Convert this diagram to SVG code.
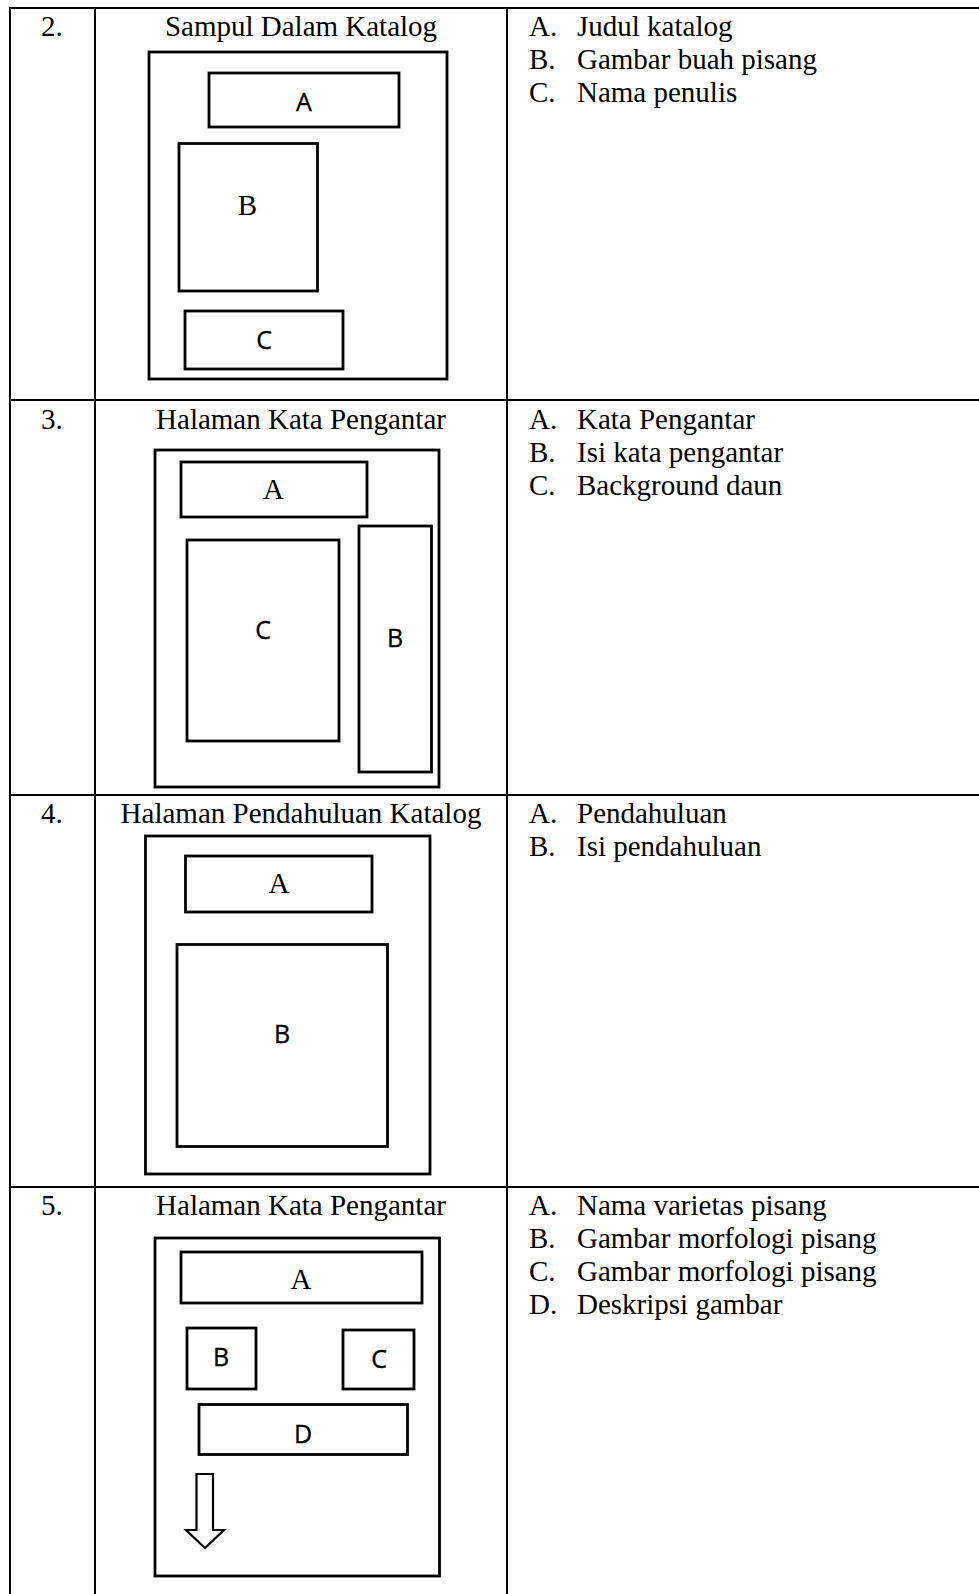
<svg xmlns="http://www.w3.org/2000/svg" width="979" height="1594" viewBox="0 0 979 1594">
<style>
.tl{stroke:#000;stroke-width:2;fill:none}
.bx{stroke:#000;stroke-width:2.8;fill:none}
.ser{font-family:"Liberation Serif","Times New Roman",serif;font-size:29px;fill:#000}
.san{font-family:"Open Sans","Liberation Sans",sans-serif;font-size:25px;fill:#000;stroke:#000;stroke-width:0.35}
.mid{text-anchor:middle}
</style>
<rect width="979" height="1594" fill="#fff"/>
<g id="table">
<line class="tl" x1="10" y1="8" x2="979" y2="8"/>
<line class="tl" x1="10" y1="400" x2="979" y2="400"/>
<line class="tl" x1="10" y1="795" x2="979" y2="795"/>
<line class="tl" x1="10" y1="1187" x2="979" y2="1187"/>
<line class="tl" x1="10" y1="7" x2="10" y2="1594"/>
<line class="tl" x1="95" y1="7" x2="95" y2="1594"/>
<line class="tl" x1="507" y1="7" x2="507" y2="1594"/>
</g>
<g id="row2">
<text class="ser" x="41" y="36">2.</text>
<text class="ser mid" x="301" y="36">Sampul Dalam Katalog</text>
<rect class="bx" x="149" y="52" width="298" height="327"/>
<rect class="bx" x="209" y="73" width="190" height="54"/>
<rect class="bx" x="179" y="143.5" width="138.5" height="147.5"/>
<rect class="bx" x="185" y="311" width="158" height="58"/>
<text class="san mid" x="304" y="111">A</text>
<text class="ser mid" x="247.5" y="214.5">B</text>
<text class="san mid" x="264" y="348.5">C</text>
<text class="ser" x="529" y="36">A.</text><text class="ser" x="577" y="36">Judul katalog</text>
<text class="ser" x="529" y="69">B.</text><text class="ser" x="577" y="69">Gambar buah pisang</text>
<text class="ser" x="529" y="102">C.</text><text class="ser" x="577" y="102">Nama penulis</text>
</g>
<g id="row3">
<text class="ser" x="41" y="429">3.</text>
<text class="ser mid" x="301" y="429">Halaman Kata Pengantar</text>
<rect class="bx" x="155" y="450" width="284" height="337"/>
<rect class="bx" x="181" y="462" width="186" height="55"/>
<rect class="bx" x="187" y="540" width="152" height="201"/>
<rect class="bx" x="359" y="526" width="72.5" height="246"/>
<text class="ser mid" x="273.5" y="498.5">A</text>
<text class="san mid" x="263" y="638.5">C</text>
<text class="san mid" x="395" y="646.5">B</text>
<text class="ser" x="529" y="429">A.</text><text class="ser" x="577" y="429">Kata Pengantar</text>
<text class="ser" x="529" y="462">B.</text><text class="ser" x="577" y="462">Isi kata pengantar</text>
<text class="ser" x="529" y="495">C.</text><text class="ser" x="577" y="495">Background daun</text>
</g>
<g id="row4">
<text class="ser" x="41" y="823">4.</text>
<text class="ser mid" x="301" y="823">Halaman Pendahuluan Katalog</text>
<rect class="bx" x="145.5" y="836" width="284.5" height="338"/>
<rect class="bx" x="185.5" y="856" width="186.5" height="56"/>
<rect class="bx" x="177" y="944.5" width="210.5" height="202"/>
<text class="ser mid" x="279" y="893">A</text>
<text class="san mid" x="282" y="1042.5">B</text>
<text class="ser" x="529" y="823">A.</text><text class="ser" x="577" y="823">Pendahuluan</text>
<text class="ser" x="529" y="856">B.</text><text class="ser" x="577" y="856">Isi pendahuluan</text>
</g>
<g id="row5">
<text class="ser" x="41" y="1215">5.</text>
<text class="ser mid" x="301" y="1215">Halaman Kata Pengantar</text>
<rect class="bx" x="155" y="1238" width="284.5" height="338"/>
<rect class="bx" x="181" y="1252" width="241" height="51"/>
<rect class="bx" x="187" y="1328" width="69" height="61"/>
<rect class="bx" x="343" y="1330" width="71" height="59"/>
<rect class="bx" x="199" y="1404.5" width="208.5" height="50"/>
<polygon points="196.5,1474 213,1474 213,1530 224,1530 205,1548 186,1530 196.5,1530" fill="none" stroke="#000" stroke-width="2.2"/>
<text class="ser mid" x="301" y="1289">A</text>
<text class="san mid" x="221" y="1365.5">B</text>
<text class="san mid" x="379" y="1368">C</text>
<text class="san mid" x="303" y="1442.5">D</text>
<text class="ser" x="529" y="1215">A.</text><text class="ser" x="577" y="1215">Nama varietas pisang</text>
<text class="ser" x="529" y="1248">B.</text><text class="ser" x="577" y="1248">Gambar morfologi pisang</text>
<text class="ser" x="529" y="1281">C.</text><text class="ser" x="577" y="1281">Gambar morfologi pisang</text>
<text class="ser" x="529" y="1314">D.</text><text class="ser" x="577" y="1314">Deskripsi gambar</text>
</g>
</svg>
